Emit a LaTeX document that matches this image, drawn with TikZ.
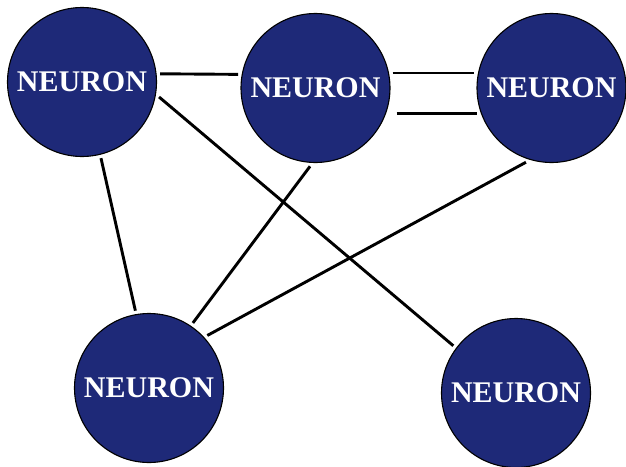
\documentclass[tikz,border=0pt]{standalone}
\usepackage{fontspec}
\setmainfont{Liberation Serif}
\usetikzlibrary{positioning}
\definecolor{neuronblue}{RGB}{30,41,120}

\begin{document}
\begin{tikzpicture}[
  x=1pt, y=-1pt,
  neuron/.style={circle, draw=black, line width=1.1pt, fill=neuronblue,
                 minimum size=149pt, inner sep=0pt, outer sep=4pt,
                 text=white, font=\bfseries\fontsize{30}{30}\selectfont},
  link/.style={line width=2.9pt}]
\useasboundingbox (0,0) rectangle (626,466);
\node[neuron] (tl) at (82,82)    {NEURON};
\node[neuron] (tm) at (315.5,88) {NEURON};
\node[neuron] (tr) at (551.5,88) {NEURON};
\node[neuron] (bl) at (149,388)  {NEURON};
\node[neuron] (br) at (516,393)  {NEURON};
% connections
\draw[link] (tl.-11) -- (br.143);
\draw[link] (tl.6) -- (tm.170);
\draw[link] (tm.11) -- (tr.169);
\draw[link] (tm.-19) ++(7,0) -- (tr.199);
\draw[link] (tl.-76) -- (bl.100);
\draw[link] (tm.-94) -- (bl.56);
\draw[link] (tr.251) -- (bl.42);
\end{tikzpicture}
\end{document}
